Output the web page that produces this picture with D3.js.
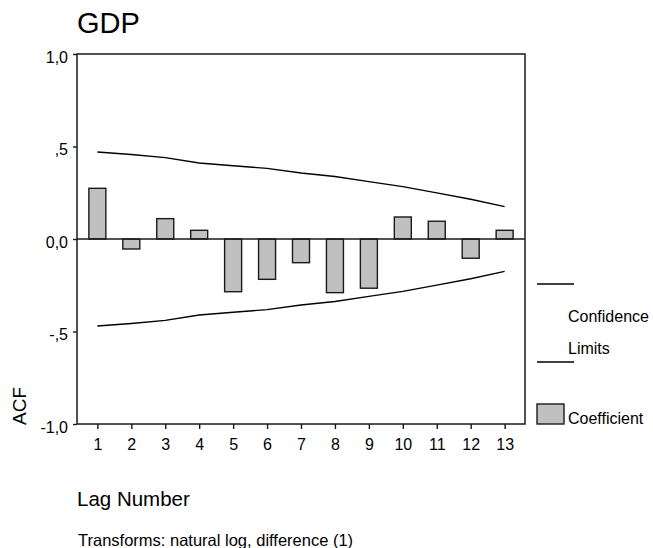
<!DOCTYPE html>
<html>
<head>
<meta charset="utf-8">
<script src="https://cdn.jsdelivr.net/npm/d3@7"></script>
<style>
  html, body { margin: 0; padding: 0; background: #fff; }
  svg { display: block; font-family: "Liberation Sans", Arial, sans-serif; }
  text { fill: #000; }
</style>
</head>
<body>
<svg id="chart" width="653" height="548"></svg>
<script>
// Autocorrelation of ln(GDP), first difference
const lags = [1, 2, 3, 4, 5, 6, 7, 8, 9, 10, 11, 12, 13];
const acf = [0.274, -0.054, 0.110, 0.047, -0.285, -0.218, -0.128, -0.290, -0.266, 0.119, 0.096, -0.104, 0.047];
// Upper confidence limit per lag (the lower limit is its negative)
const confLimit = [0.470, 0.457, 0.440, 0.411, 0.396, 0.382, 0.357, 0.338, 0.310, 0.283, 0.249, 0.215, 0.175];
const yTicks = [1.0, 0.5, 0.0, -0.5, -1.0];
const yTickLabels = ["1,0", ",5", "0,0", "-,5", "-1,0"];

const svg = d3.select("#chart");
const plot = { left: 77, right: 525, top: 54, bottom: 424 };

const x = d3.scalePoint()
  .domain(lags)
  .range([plot.left, plot.right])
  .padding(0.6);

const y = d3.scaleLinear()
  .domain([-1, 1])
  .range([plot.bottom, plot.top]);

// Title
svg.append("text")
  .attr("x", 77).attr("y", 33)
  .style("font-size", "29px")
  .text("GDP");

// Bars
const barW = 17;
svg.append("g").selectAll("rect")
  .data(lags)
  .join("rect")
  .attr("x", (d) => x(d) - barW / 2)
  .attr("y", (d, i) => Math.min(y(acf[i]), y(0)))
  .attr("width", barW)
  .attr("height", (d, i) => Math.abs(y(acf[i]) - y(0)))
  .attr("fill", "#c0c0c0")
  .attr("stroke", "#1a1a1a")
  .attr("stroke-width", 1.4);

// Confidence limits
const line = d3.line().x((d) => x(d[0])).y((d) => y(d[1]));
const upper = lags.map((l, i) => [l, confLimit[i]]);
const lower = lags.map((l, i) => [l, -confLimit[i]]);
[upper, lower].forEach((pts) => {
  svg.append("path")
    .datum(pts)
    .attr("d", line)
    .attr("fill", "none")
    .attr("stroke", "#000")
    .attr("stroke-width", 1.4);
});

// Zero reference line
svg.append("line")
  .attr("x1", plot.left).attr("x2", plot.right)
  .attr("y1", y(0)).attr("y2", y(0))
  .attr("stroke", "#1a1a1a").attr("stroke-width", 1.4);

// Frame
svg.append("rect")
  .attr("x", plot.left).attr("y", plot.top)
  .attr("width", plot.right - plot.left)
  .attr("height", plot.bottom - plot.top)
  .attr("fill", "none")
  .attr("stroke", "#1a1a1a")
  .attr("stroke-width", 1.5);

// Y axis
const yAxis = d3.axisLeft(y)
  .tickValues(yTicks)
  .tickSize(4)
  .tickPadding(5)
  .tickFormat((d, i) => yTickLabels[i]);
const gy = svg.append("g")
  .attr("transform", `translate(${plot.left},0)`)
  .call(yAxis);
gy.select(".domain").remove();
gy.selectAll("line").attr("stroke", "#1a1a1a").attr("stroke-width", 1.4);
gy.selectAll("text")
  .style("font-size", "16px")
  .attr("fill", "#000")
  .attr("font-family", "Liberation Sans, Arial, sans-serif")
  .attr("dy", "0.5em");

// X axis
const xAxis = d3.axisBottom(x).tickSize(5).tickPadding(10);
const gx = svg.append("g")
  .attr("transform", `translate(0,${plot.bottom})`)
  .call(xAxis);
gx.select(".domain").remove();
gx.selectAll("line").attr("stroke", "#1a1a1a").attr("stroke-width", 1.4);
gx.selectAll("text")
  .style("font-size", "16px")
  .attr("fill", "#000")
  .attr("font-family", "Liberation Sans, Arial, sans-serif");

// Axis titles
svg.append("text")
  .attr("transform", "translate(26,425) rotate(-90)")
  .style("font-size", "19px")
  .text("ACF");

svg.append("text")
  .attr("x", 77).attr("y", 506)
  .style("font-size", "20.5px")
  .text("Lag Number");

svg.append("text")
  .attr("x", 78).attr("y", 546)
  .style("font-size", "16.5px")
  .text("Transforms: natural log, difference (1)");

// Legend
const legend = svg.append("g");
legend.append("line")
  .attr("x1", 537).attr("x2", 574).attr("y1", 284).attr("y2", 284)
  .attr("stroke", "#000").attr("stroke-width", 1.4);
legend.append("line")
  .attr("x1", 537).attr("x2", 574).attr("y1", 362).attr("y2", 362)
  .attr("stroke", "#000").attr("stroke-width", 1.4);
legend.append("text")
  .attr("x", 568).attr("y", 322)
  .style("font-size", "16px")
  .text("Confidence");
legend.append("text")
  .attr("x", 568).attr("y", 354)
  .style("font-size", "16px")
  .text("Limits");
legend.append("rect")
  .attr("x", 537).attr("y", 404).attr("width", 27).attr("height", 20)
  .attr("fill", "#c0c0c0").attr("stroke", "#1a1a1a").attr("stroke-width", 1.4);
legend.append("text")
  .attr("x", 568).attr("y", 424)
  .style("font-size", "16px")
  .text("Coefficient");
</script>
</body>
</html>
